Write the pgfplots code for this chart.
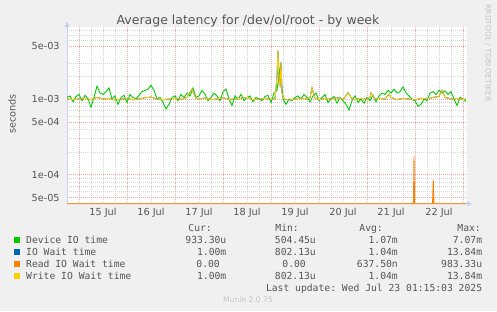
\documentclass[border=0pt]{standalone}
\usepackage{pgfplots}
\pgfplotsset{compat=1.18}
\usepackage{pgfplotstable}
\usepackage{fontspec}
\setmainfont{DejaVu Sans}
\setmonofont{DejaVu Sans Mono}
\usetikzlibrary{arrows.meta}

\definecolor{bg}{HTML}{F0F0F0}
\definecolor{majgrid}{HTML}{E6A6A6}
\definecolor{mingrid}{HTML}{D4D4D4}
\definecolor{axisblue}{HTML}{C8CEF5}
\definecolor{txt}{HTML}{555555}
\definecolor{faint}{HTML}{C4C4C4}
\definecolor{dev}{HTML}{00CC00}
\definecolor{iow}{HTML}{0066B3}
\definecolor{rio}{HTML}{FF8000}
\definecolor{wio}{HTML}{FFCC00}

\pgfplotstableread{
d v
-0.25 1.05e-3
-0.1875 1.10e-3
-0.125 0.92e-3
-0.0625 1.08e-3
0 1.15e-3
0.0625 0.95e-3
0.125 1.12e-3
0.1875 1.00e-3
0.25 0.78e-3
0.3125 1.05e-3
0.375 1.48e-3
0.4375 1.20e-3
0.5 1.15e-3
0.5625 1.25e-3
0.625 1.40e-3
0.6875 1.00e-3
0.75 1.10e-3
0.8125 0.85e-3
0.875 1.05e-3
0.9375 1.12e-3
1.0 0.90e-3
1.0625 1.15e-3
1.125 1.05e-3
1.1875 1.00e-3
1.25 1.12e-3
1.3125 1.25e-3
1.375 1.30e-3
1.4375 1.35e-3
1.5 1.52e-3
1.5625 1.30e-3
1.625 1.00e-3
1.6875 1.05e-3
1.75 0.90e-3
1.8125 0.74e-3
1.875 0.85e-3
1.9375 1.05e-3
2.0 1.10e-3
2.0625 0.95e-3
2.125 1.15e-3
2.1875 1.05e-3
2.25 1.20e-3
2.3125 1.10e-3
2.375 1.40e-3
2.4375 1.05e-3
2.5 1.10e-3
2.5625 1.30e-3
2.625 1.15e-3
2.6875 0.95e-3
2.75 1.05e-3
2.8125 1.20e-3
2.875 1.10e-3
2.9375 0.95e-3
3.0 1.25e-3
3.0625 1.35e-3
3.125 1.00e-3
3.1875 0.82e-3
3.25 1.10e-3
3.3125 1.00e-3
3.375 1.15e-3
3.4375 0.95e-3
3.5 1.05e-3
3.5625 1.10e-3
3.625 0.92e-3
3.6875 1.05e-3
3.75 1.00e-3
3.8125 0.95e-3
3.875 1.08e-3
3.9375 1.12e-3
4.0 0.90e-3
4.0625 1.20e-3
4.125 1.30e-3
4.1875 2.60e-3
4.25 1.00e-3
4.3125 0.85e-3
4.375 1.00e-3
4.4375 0.95e-3
4.5 1.05e-3
4.5625 1.10e-3
4.625 1.00e-3
4.6875 1.15e-3
4.75 1.05e-3
4.8125 0.92e-3
4.875 1.10e-3
4.9375 1.20e-3
5.0 0.95e-3
5.0625 1.05e-3
5.125 1.15e-3
5.1875 0.90e-3
5.25 1.00e-3
5.3125 1.08e-3
5.375 0.88e-3
5.4375 1.05e-3
5.5 0.95e-3
5.5625 0.85e-3
5.625 0.72e-3
5.6875 0.95e-3
5.75 1.10e-3
5.8125 0.90e-3
5.875 1.00e-3
5.9375 0.88e-3
6.0 1.05e-3
6.0625 0.95e-3
6.125 1.12e-3
6.1875 0.92e-3
6.25 1.10e-3
6.3125 1.20e-3
6.375 1.15e-3
6.4375 1.30e-3
6.5 1.20e-3
6.5625 1.35e-3
6.625 1.20e-3
6.6875 1.25e-3
6.75 1.45e-3
6.8125 1.20e-3
6.875 1.10e-3
6.9375 1.00e-3
7.0 0.95e-3
7.0625 0.80e-3
7.125 0.85e-3
7.1875 1.00e-3
7.25 0.95e-3
7.3125 1.20e-3
7.375 1.25e-3
7.4375 1.15e-3
7.5 1.30e-3
7.5625 1.20e-3
7.625 1.28e-3
7.6875 1.15e-3
7.75 1.25e-3
7.8125 1.00e-3
7.875 0.82e-3
7.9375 1.05e-3
8.0 1.00e-3
8.0625 0.93e-3
}\devtable

\pgfplotstableread{
d v
-0.25 1.00e-3
-0.125 0.98e-3
0 1.00e-3
0.125 1.02e-3
0.25 0.98e-3
0.375 1.05e-3
0.5 1.00e-3
0.625 1.02e-3
0.75 0.97e-3
0.875 1.00e-3
1.0 1.01e-3
1.125 0.98e-3
1.25 1.00e-3
1.375 1.04e-3
1.5 1.06e-3
1.625 1.00e-3
1.75 0.98e-3
1.875 1.00e-3
2.0 1.02e-3
2.125 0.99e-3
2.25 1.05e-3
2.354 1.35e-3
2.4375 1.02e-3
2.5 1.00e-3
2.625 1.03e-3
2.75 0.98e-3
2.875 1.00e-3
3.0 1.04e-3
3.125 0.99e-3
3.25 1.00e-3
3.375 1.02e-3
3.5 1.05e-3
3.625 0.98e-3
3.75 1.00e-3
3.875 1.02e-3
4.0 0.99e-3
4.083 1.00e-3
4.125 2.00e-3
4.146 4.40e-3
4.167 1.60e-3
4.1875 1.50e-3
4.208 3.10e-3
4.229 1.20e-3
4.271 1.00e-3
4.375 0.97e-3
4.5 1.00e-3
4.625 1.03e-3
4.75 1.00e-3
4.8125 1.05e-3
4.854 1.40e-3
4.917 1.02e-3
5.0 0.98e-3
5.125 1.02e-3
5.25 1.00e-3
5.375 1.04e-3
5.5 0.99e-3
5.562 1.10e-3
5.604 1.22e-3
5.6875 1.00e-3
5.75 0.98e-3
5.875 1.02e-3
6.0 1.00e-3
6.0625 1.05e-3
6.083 1.20e-3
6.167 1.00e-3
6.25 1.02e-3
6.375 1.00e-3
6.458 1.15e-3
6.5 1.05e-3
6.625 0.98e-3
6.75 1.02e-3
6.875 1.00e-3
7.0 0.97e-3
7.125 1.02e-3
7.25 1.00e-3
7.375 1.05e-3
7.5 1.08e-3
7.562 1.30e-3
7.625 1.05e-3
7.75 1.00e-3
7.875 1.02e-3
8.0 0.98e-3
8.0625 1.00e-3
}\wiotable

\pgfplotstableread{
d v
-0.25 4.14e-5
6.967 4.14e-5
6.979 1.75e-4
6.99 4.14e-5
7.365 4.14e-5
7.38 8.5e-5
7.395 4.14e-5
8.0625 4.14e-5
}\riotable

\begin{document}
\begin{tikzpicture}[x=1pt,y=1pt]
\fill[bg] (0,0) rectangle (497,311);
\begin{axis}[
  at={(67pt,107.3pt)}, anchor=south west,
  scale only axis, width=400pt, height=176.7pt,
  ymode=log,
  xmin=-0.25, xmax=8.083,
  ymin=4.14e-5, ymax=8.94e-3,
  clip=false,
  axis lines=left,
  axis line style={line width=0.8pt},
  x axis line style={draw={rgb,255:red,245;green,180;blue,140}, -{Triangle[length=5pt,width=5pt,color=axisblue]}, shorten >=-5pt},
  y axis line style={draw=axisblue, -{Triangle[length=5pt,width=5pt,color=axisblue]}, shorten >=-5pt},
  axis background/.style={fill=white},
  major tick length=0pt, minor tick length=0pt,
  xtick={0.5,1.5,2.5,3.5,4.5,5.5,6.5,7.5},
  xticklabels={15 Jul,16 Jul,17 Jul,18 Jul,19 Jul,20 Jul,21 Jul,22 Jul},
  minor xtick={-0.25,0.25,0.5,0.75,1.25,1.5,1.75,2.25,2.5,2.75,3.25,3.5,3.75,4.25,4.5,4.75,5.25,5.5,5.75,6.25,6.5,6.75,7.25,7.5,7.75},
  extra x ticks={0,1,2,3,4,5,6,7,8},
  extra x tick labels={},
  extra x tick style={grid=major},
  ytick={5e-5,1e-4,5e-4,1e-3,5e-3},
  yticklabels={5e-05,1e-04,5e-04,1e-03,5e-03},
  minor ytick={6e-5,7e-5,8e-5,9e-5,2e-4,3e-4,4e-4,6e-4,7e-4,8e-4,9e-4,2e-3,3e-3,6e-3,7e-3,8e-3},
  xmajorgrids=false, xminorgrids=true,
  ymajorgrids=true, yminorgrids=true,
  major grid style={majgrid, dash pattern=on 1pt off 1pt, line width=0.5pt},
  minor grid style={mingrid, dash pattern=on 1pt off 1pt, line width=0.5pt},
  tick label style={font=\fontsize{9.7}{11}\selectfont, text=txt},
  yticklabel style={xshift=-3.8pt},
  xticklabel style={yshift=-1pt},
]
\addplot[dev, line width=0.9pt] table[x=d,y=v] {\devtable};
\addplot[iow, line width=0.9pt] table[x=d,y=v] {\wiotable};
\addplot[rio, line width=0.9pt] table[x=d,y=v] {\riotable};
\addplot[wio, line width=0.9pt] table[x=d,y=v] {\wiotable};
\end{axis}

% title, labels, watermark
\node[anchor=base, font=\fontsize{12.5}{14}\selectfont, text=txt] at (248,286) {Average latency for /dev/ol/root - by week};
\node[anchor=base, rotate=90, font=\fontsize{9.7}{11}\selectfont, text=txt] at (15.5,197) {seconds};
\node[rotate=-90, font=\fontsize{7.5}{9}\selectfont, text=faint] at (488,258) {RRDTOOL / TOBI OETIKER};

% legend
\begin{scope}[every node/.style={font=\fontsize{9.7}{11}\ttfamily, text=txt, inner sep=0pt}]
\node[anchor=base east] at (212,80) {Cur:};
\node[anchor=base east] at (299,80) {Min:};
\node[anchor=base east] at (383,80) {Avg:};
\node[anchor=base east] at (481,80) {Max:};

\fill[dev] (14,68) rectangle (20,74);
\fill[iow] (14,56) rectangle (20,62);
\fill[rio] (14,44) rectangle (20,50);
\fill[wio] (14,32) rectangle (20,38);

\node[anchor=base west] at (26,68) {Device IO time};
\node[anchor=base west] at (26,56) {IO Wait time};
\node[anchor=base west] at (26,44) {Read IO Wait time};
\node[anchor=base west] at (26,32) {Write IO Wait time};

\node[anchor=base east] at (226.5,68) {933.30u};
\node[anchor=base east] at (226.5,56) {1.00m};
\node[anchor=base east] at (220,44) {0.00};
\node[anchor=base east] at (226.5,32) {1.00m};

\node[anchor=base east] at (316,68) {504.45u};
\node[anchor=base east] at (316,56) {802.13u};
\node[anchor=base east] at (306,44) {0.00};
\node[anchor=base east] at (316,32) {802.13u};

\node[anchor=base east] at (398,68) {1.07m};
\node[anchor=base east] at (398,56) {1.04m};
\node[anchor=base east] at (398,44) {637.50n};
\node[anchor=base east] at (398,32) {1.04m};

\node[anchor=base east] at (482.3,68) {7.07m};
\node[anchor=base east] at (482.3,56) {13.84m};
\node[anchor=base east] at (482.3,44) {983.33u};
\node[anchor=base east] at (482.3,32) {13.84m};

\node[anchor=base east] at (482.3,20) {Last update: Wed Jul 23 01:15:03 2025};
\end{scope}
\node[anchor=base, inner sep=0pt, font=\fontsize{7.6}{9}\selectfont, text=faint] at (248,9) {Munin 2.0.75};

\pgfresetboundingbox
\useasboundingbox (0,0) rectangle (497,311);
\end{tikzpicture}
\end{document}
